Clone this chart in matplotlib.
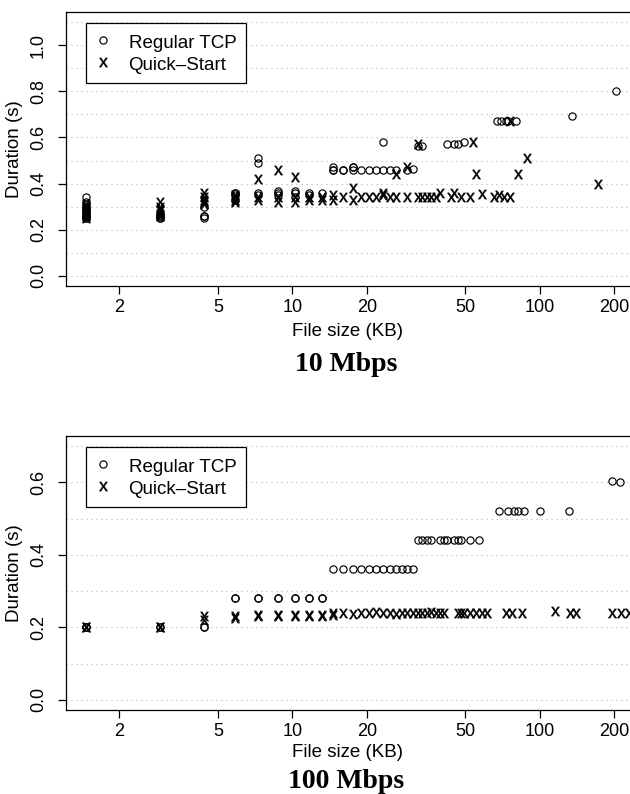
import matplotlib
matplotlib.use("Agg")
import matplotlib.pyplot as plt
from matplotlib.ticker import FixedLocator, FixedFormatter, NullLocator

# ---------------- data (file size in KB, duration in s) ----------------
top_tcp_size = [1.46]*11 + [2.92]*5 + [4.38]*4 + [5.84]*4 + [7.30]*4 + [8.76]*3 + [10.22]*3 + \
    [11.68]*2 + [13.14] + [14.60]*3 + [16.06]*2 + [17.52]*3 + [18.98, 20.44, 21.90, 23.36, 23.36,
    24.82, 26.28, 29.20, 30.66, 32.12, 33.58, 42.34, 45.26, 46.72, 49.64, 67.16, 70.08, 73.00,
    74.46, 80.30, 135.78, 204.40]
top_tcp_dur = [0.25, 0.25, 0.26, 0.26, 0.27, 0.28, 0.29, 0.30, 0.31, 0.32, 0.34,
               0.25, 0.25, 0.26, 0.26, 0.27,
               0.25, 0.26, 0.26, 0.30,
               0.33, 0.35, 0.36, 0.36,
               0.35, 0.36, 0.49, 0.51,
               0.35, 0.36, 0.37,
               0.34, 0.36, 0.37,
               0.35, 0.36,
               0.36,
               0.46, 0.46, 0.47,
               0.46, 0.46,
               0.46, 0.47, 0.47,
               0.46, 0.46, 0.46, 0.46, 0.58,
               0.46, 0.46, 0.46, 0.465, 0.565, 0.565, 0.57, 0.57, 0.57, 0.58, 0.67, 0.67, 0.67,
               0.67, 0.67, 0.695, 0.80]

top_qs_size = [1.46]*7 + [2.92]*6 + [4.38]*5 + [5.84]*4 + [7.30]*3 + [8.76]*3 + [10.22]*3 + \
    [11.68]*2 + [13.14]*2 + [14.60]*2 + [16.06] + [17.52]*2 + [18.98, 20.44, 21.90, 23.36, 23.36,
    24.82, 26.28, 26.28, 29.20, 29.20, 32.12, 32.12, 33.58, 35.04, 36.50, 37.96, 39.42, 43.80,
    45.26, 48.18, 52.56, 54.02, 55.48, 58.40, 65.70, 68.62, 71.54, 75.92, 75.92, 81.76, 89.06,
    172.28]
top_qs_dur = [0.25, 0.26, 0.27, 0.28, 0.29, 0.30, 0.31,
              0.26, 0.27, 0.28, 0.29, 0.30, 0.32,
              0.31, 0.32, 0.33, 0.34, 0.36,
              0.32, 0.33, 0.34, 0.35,
              0.33, 0.34, 0.42,
              0.32, 0.34, 0.46,
              0.32, 0.34, 0.43,
              0.33, 0.34,
              0.33, 0.34,
              0.33, 0.35,
              0.34,
              0.33, 0.38,
              0.34, 0.34, 0.34, 0.35, 0.36,
              0.34, 0.34, 0.44, 0.34, 0.47, 0.34, 0.57, 0.34, 0.34, 0.34, 0.34, 0.36, 0.34,
              0.36, 0.34, 0.34, 0.58, 0.44, 0.355, 0.34, 0.35, 0.34, 0.34, 0.67, 0.44, 0.51,
              0.40]

bot_tcp_size = [1.46]*3 + [2.92]*2 + [4.38]*2 + [5.84]*2 + [7.30]*2 + [8.76]*2 + [10.22]*2 + \
    [11.68]*2 + [13.14]*2 + [14.60, 16.06, 17.52, 18.98, 20.44, 21.90, 23.36, 24.82, 26.28, 27.74,
    29.20, 30.66,
    32.12, 33.58, 35.04, 36.50, 39.42, 40.88, 42.34, 45.26, 46.72, 48.18, 52.56, 56.94,
    68.62, 74.46, 78.84, 81.76, 86.14, 100.74, 131.40, 197.10, 211.70]
bot_tcp_dur = [0.20]*3 + [0.20]*2 + [0.20]*2 + [0.28]*2 + [0.28]*2 + [0.28]*2 + [0.28]*2 + \
    [0.28]*2 + [0.28]*2 + [0.36, 0.36, 0.36, 0.36, 0.36, 0.36, 0.36, 0.36, 0.36, 0.36, 0.36, 0.36,
    0.44, 0.44, 0.44, 0.44, 0.44, 0.44, 0.44, 0.44, 0.44, 0.44, 0.44, 0.44,
    0.52, 0.52, 0.52, 0.52, 0.52, 0.52, 0.52, 0.605, 0.60]

bot_qs_size = [1.46]*2 + [2.92]*2 + [4.38]*2 + [5.84]*2 + [7.30]*2 + [8.76]*2 + [10.22]*2 + \
    [11.68]*2 + [13.14]*2 + [14.60]*2 + [16.06, 17.52, 18.98, 20.44, 21.90, 23.36, 24.82, 26.28,
    27.74, 29.20, 30.66, 32.12, 33.58, 35.04, 36.50, 37.96, 39.42, 40.88,
    46.72, 48.18, 49.64, 52.56, 55.48, 58.40, 61.32, 73.00, 77.38, 84.68, 115.34, 132.86,
    140.16, 197.10, 213.16, 230.68]
bot_qs_dur = [0.20, 0.20, 0.20, 0.20, 0.23, 0.22, 0.23, 0.225, 0.235, 0.23, 0.233, 0.23,
              0.235, 0.23, 0.235, 0.23, 0.235, 0.23, 0.24, 0.235,
              0.24, 0.238, 0.24, 0.24, 0.242, 0.24, 0.24, 0.238, 0.24, 0.24, 0.24, 0.24, 0.24,
              0.24, 0.242, 0.24, 0.24, 0.24,
              0.24, 0.24, 0.24, 0.24, 0.24, 0.24, 0.24, 0.24, 0.24, 0.24, 0.245, 0.24,
              0.24, 0.24, 0.24, 0.24]

xtick_vals = [2, 5, 10, 20, 50, 100, 200]
xtick_labels = ["2", "5", "10", "20", "50", "100", "200"]
top_yticks = [0.0, 0.2, 0.4, 0.6, 0.8, 1.0]
bot_yticks = [0.0, 0.2, 0.4, 0.6]
top_grid = [0.0, 0.1, 0.2, 0.3, 0.4, 0.5, 0.6, 0.7, 0.8, 0.9, 1.0, 1.1]
bot_grid = [0.0, 0.1, 0.2, 0.3, 0.4, 0.5, 0.6, 0.7]
titles = ["10 Mbps", "100 Mbps"]

# ---------------- figure ----------------
W, H = 630, 794
plt.rcParams["font.family"] = ["Liberation Sans", "DejaVu Sans"]
plt.rcParams["mathtext.fontset"] = "custom"
plt.rcParams["mathtext.sf"] = "Liberation Sans"
plt.rcParams["mathtext.rm"] = "Liberation Sans"
fig = plt.figure(figsize=(W / 100, H / 100), dpi=100)

def fx(px):
    return px / W

def fy(py):
    return 1 - py / H

L, R = 65.7, 638.0

def panel(top_px, bot_px, tcp_x, tcp_y, qs_x, qs_y, ylim, yticks, grid, title,
          lab_base, title_base):
    ax = fig.add_axes([fx(L), fy(bot_px), fx(R) - fx(L), fy(top_px) - fy(bot_px)])
    ax.set_xscale("log")
    ax.set_xlim(1.213, 250)
    ax.set_ylim(*ylim)
    for g in grid:
        ax.axhline(g, color="#b4b4b4", lw=0.8, ls=(0, (1, 3.5)), zorder=0)
    ax.plot(tcp_x, tcp_y, ls="none", marker="o", mfc="none", mec="black", ms=5.2, mew=0.85,
            label="Regular TCP", zorder=3)
    ax.plot(qs_x, qs_y, ls="none", marker=r"$\mathsf{x}$", color="black", ms=6.6,
            mew=0.35, label="Quick\u2013Start", zorder=3)
    ax.xaxis.set_major_locator(FixedLocator(xtick_vals))
    ax.xaxis.set_major_formatter(FixedFormatter(xtick_labels))
    ax.xaxis.set_minor_locator(NullLocator())
    ax.yaxis.set_major_locator(FixedLocator(yticks))
    ax.set_yticklabels(["%.1f" % v for v in yticks], rotation=90, va="center")
    ax.tick_params(axis="both", direction="out", length=5.5, width=0.9, labelsize=13,
                   colors="black")
    ax.tick_params(axis="x", pad=4)
    ax.tick_params(axis="y", pad=8)
    for s in ax.spines.values():
        s.set_linewidth(0.9)
    leg = ax.legend(loc="upper left", bbox_to_anchor=(fx(86.4), fy(top_px + 10.7)),
                    bbox_transform=fig.transFigure, borderaxespad=0, fontsize=13.5,
                    frameon=True, fancybox=False, edgecolor="black", framealpha=1,
                    numpoints=1, handlelength=0.81, handletextpad=0.94, borderpad=0.5,
                    labelspacing=0.08, handleheight=1.25)
    leg.get_frame().set_linewidth(0.9)
    cx = (L + 630.3) / 2
    fig.text(fx(cx), fy(lab_base), "File size (KB)", ha="center", va="baseline", fontsize=13.5)
    fig.text(fx(cx - 2), fy(title_base), title, ha="center", va="baseline", fontsize=20,
             fontweight="bold", family=["Liberation Serif", "DejaVu Serif"])
    fig.text(fx(15), fy((top_px + bot_px) / 2), "Duration (s)", rotation=90, ha="center",
             va="center", fontsize=13.5)
    return ax

panel(12, 286, top_tcp_size, top_tcp_dur, top_qs_size, top_qs_dur, (-0.044, 1.144),
      top_yticks, top_grid, titles[0], 336, 371)
panel(436, 710, bot_tcp_size, bot_tcp_dur, bot_qs_size, bot_qs_dur, (-0.028, 0.728),
      bot_yticks, bot_grid, titles[1], 757, 788)

fig.savefig("out.png", dpi=100)
